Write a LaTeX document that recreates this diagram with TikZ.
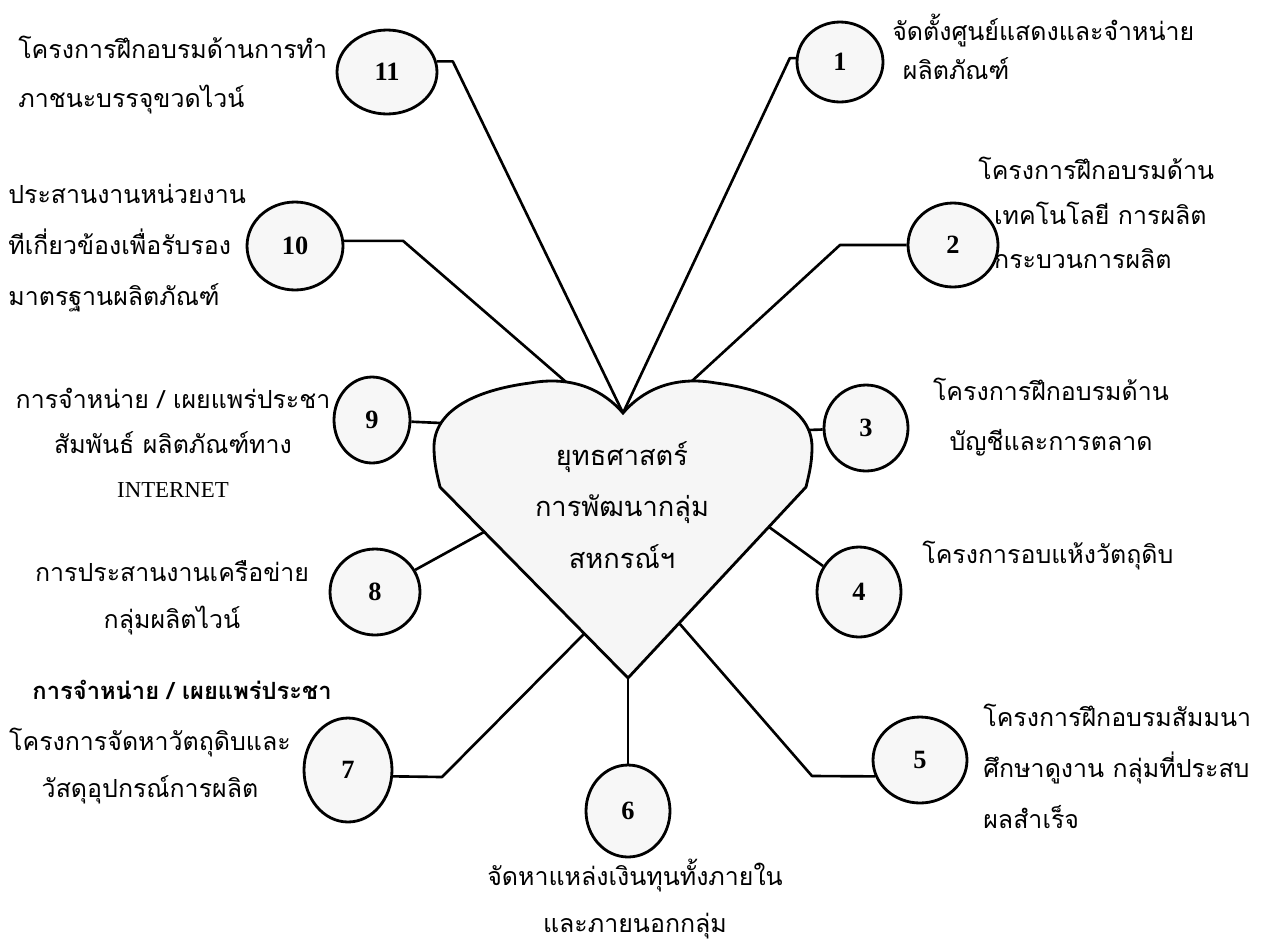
\documentclass[tikz,border=0pt]{standalone}
\usepackage{fontspec}
\setmainfont{Liberation Serif}
\newfontfamily\thai[Script=Thai]{Loma}
\usetikzlibrary{shapes.geometric}
\newcommand\circnum[1]{\raisebox{-5pt}{#1}}
\begin{document}
\begin{tikzpicture}[x=0.02cm,y=-0.02cm]
\tikzset{
  num/.style={draw, ellipse, line width=1.6pt, fill=gray!6, inner sep=0pt,
    font=\bfseries\fontsize{15}{15}\selectfont},
  lab/.style={inner sep=0pt, font=\thai\fontsize{14.2}{#1}\selectfont},
  lab/.default=28pt,
  link/.style={line width=1.5pt, line join=round},
  heart/.style={draw, line width=1.6pt, fill=gray!7, line join=miter}
}
\useasboundingbox (0,0) rectangle (1267,947);

% heart
\coordinate (N) at (623,413);
\coordinate (B) at (628,678);
\draw[heart] (B) -- (440,487) .. controls (438,478) and (434,465) .. (434,447)
  .. controls (434,410) and (476,390) .. (530,383)
  .. controls (575,375) and (605,392) .. (N)
  .. controls (641,392) and (671,375) .. (716,383)
  .. controls (770,390) and (812,410) .. (812,447)
  .. controls (812,465) and (808,478) .. (806,487) -- cycle;
\node[inner sep=0pt, align=center, font=\thai\fontsize{15.5}{29.5}\selectfont] (ctr) at (622,505)
  {ยุทธศาสตร์\\การพัฒนากลุ่ม\\สหกรณ์ฯ};

% points on the heart
\coordinate (h2) at (692,381);
\coordinate (h3) at (808,430);
\coordinate (h4) at (769,527);
\coordinate (h5) at (679,623);
\coordinate (h7) at (584,634);
\coordinate (h8) at (484,532);
\coordinate (h9) at (441,423);
\coordinate (h10) at (566,382);

% circles
\node[num, minimum width=1.72cm, minimum height=1.60cm] (c1) at (840,62) {\circnum{1}};
\node[num, minimum width=1.80cm, minimum height=1.68cm] (c2) at (953,245) {\circnum{2}};
\node[num, minimum width=1.68cm, minimum height=1.72cm] (c3) at (866,428) {\circnum{3}};
\node[num, minimum width=1.68cm, minimum height=1.80cm] (c4) at (859,592) {\circnum{4}};
\node[num, minimum width=1.88cm, minimum height=1.72cm] (c5) at (920,760) {\circnum{5}};
\node[num, minimum width=1.68cm, minimum height=1.84cm] (c6) at (628,811) {\circnum{6}};
\node[num, minimum width=1.76cm, minimum height=2.08cm] (c7) at (348,770) {\circnum{7}};
\node[num, minimum width=1.80cm, minimum height=1.72cm] (c8) at (375,592) {\circnum{8}};
\node[num, minimum width=1.52cm, minimum height=1.72cm] (c9) at (372,420) {\circnum{9}};
\node[num, minimum width=1.92cm, minimum height=1.76cm] (c10) at (295,246) {\circnum{10}};
\node[num, minimum width=2.00cm, minimum height=1.68cm] (c11) at (387,72) {\circnum{11}};

% connectors
\coordinate (k2) at (840,245);
\coordinate (k5) at (812,776);
\coordinate (k7) at (442,777);
\draw[link] (c11.12) -- ++(16,0) -- (N);
\draw[link] (c1.175) -- ++(-6,0) -- (N);
\draw[link] (c10.6) -- ++(59,0) -- (h10);
\draw[link] (c2.west) -- (k2) -- (h2);
\draw[link] (c9) -- (h9);
\draw[link] (h3) -- (c3);
\draw[link] (h4) -- (c4);
\draw[link] (h5) -- (k5) -- (c5.200);
\draw[link] (B) -- (c6);
\draw[link] (c7.-8) -- (k7) -- (h7);
\draw[link] (c8) -- (h8);

% labels
\node[lab=28pt, align=left, anchor=west] (t11) at (18,75)
  {โครงการฝึกอบรมด้านการทำ\\ภาชนะบรรจุขวดไวน์};
\node[lab=22pt, align=left, anchor=west] (t1) at (892,47)
  {จัดตั้งศูนย์แสดงและจำหน่าย\\\hspace{6pt}ผลิตภัณฑ์};
\node[lab=25.5pt, align=left, anchor=west] (t2) at (978,213)
  {โครงการฝึกอบรมด้าน\\\hspace{9pt}เทคโนโลยี การผลิต\\\hspace{9pt}กระบวนการผลิต};
\node[lab=29pt, align=left, anchor=west] (t10) at (8,248)
  {ประสานงานหน่วยงาน\\ทีเกี่ยวข้องเพื่อรับรอง\\มาตรฐานผลิตภัณฑ์};
\node[lab=25.5pt, align=center] (t9) at (173,443)
  {การจำหน่าย / เผยแพร่ประชา\\สัมพันธ์ ผลิตภัณฑ์ทาง\\{\rmfamily\fontsize{13}{13}\selectfont INTERNET}};
\node[lab=26.5pt, align=center] (t8) at (172,598)
  {การประสานงานเครือข่าย\\กลุ่มผลิตไวน์};
\node[inner sep=0pt, font=\thai\bfseries\fontsize{13.5}{16}\selectfont] (t7x) at (182,690)
  {การจำหน่าย / เผยแพร่ประชา};
\node[lab=27pt, align=center] (t7) at (150,766)
  {โครงการจัดหาวัตถุดิบและ\\วัสดุอุปกรณ์การผลิต};
\node[lab=28pt, align=center] (t3) at (1051,417)
  {โครงการฝึกอบรมด้าน\\บัญชีและการตลาด};
\node[lab, anchor=west] (t4) at (922,556) {โครงการอบแห้งวัตถุดิบ};
\node[lab=29pt, align=left, anchor=west] (t5) at (983,766)
  {โครงการฝึกอบรมสัมมนา\\ศึกษาดูงาน กลุ่มที่ประสบ\\ผลสำเร็จ};
\node[lab=27pt, align=center] (t6) at (635,899)
  {จัดหาแหล่งเงินทุนทั้งภายใน\\และภายนอกกลุ่ม};
\end{tikzpicture}
\end{document}
